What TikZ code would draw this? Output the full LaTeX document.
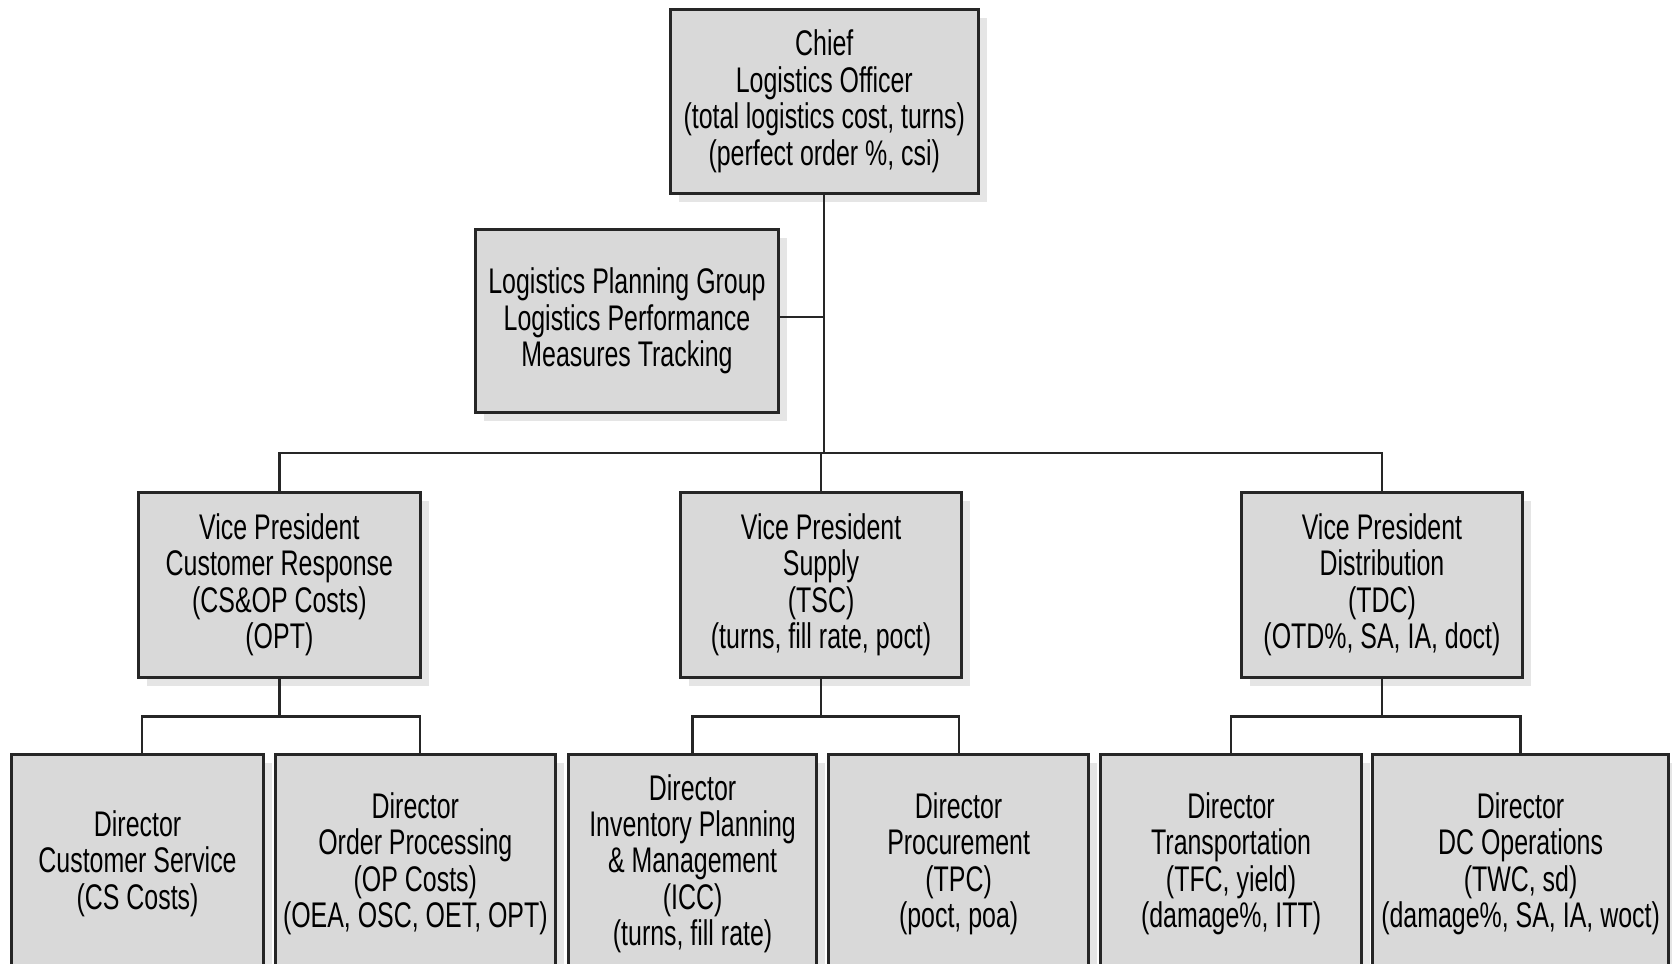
\documentclass[tikz,border=0pt]{standalone}
\usepackage{fontspec}
\setmainfont{Liberation Sans}[FakeStretch=0.70]
\usetikzlibrary{shadows}
\begin{document}
\begin{tikzpicture}[x=0.01cm,y=-0.01cm,
  box/.style={draw=black!85, line width=0.8pt, fill=black!15, rectangle, inner sep=0pt,
    align=center, font=\fontsize{9.5}{9.7}\selectfont,
    drop shadow={shadow xshift=0.08cm, shadow yshift=-0.08cm, fill=black!10, opacity=1}},
  vpbox/.style={box, minimum width=2.64cm, minimum height=1.73cm},
  dirbox/.style={box, minimum height=2.04cm},
  conn/.style={draw=black!85, line width=0.6pt}]
\useasboundingbox (0,0) rectangle (1568,904);
\clip (0,0) rectangle (1568,904);
\fill[white] (0,0) rectangle (1568,904);

\node[box, minimum width=2.89cm, minimum height=1.72cm] (chief) at (773,95)
  {Chief\\Logistics Officer\\(total logistics cost, turns)\\(perfect order \%, csi)};
\node[box, minimum width=2.84cm, minimum height=1.72cm] (lpg) at (588,301)
  {Logistics Planning Group\\Logistics Performance\\Measures Tracking};

\node[vpbox] (vp1) at (262,548.5) {Vice President\\Customer Response\\(CS\&OP Costs)\\(OPT)};
\node[vpbox] (vp2) at (770,548.5) {Vice President\\Supply\\(TSC)\\(turns, fill rate, poct)};
\node[vpbox] (vp3) at (1296,548.5) {Vice President\\Distribution\\(TDC)\\(OTD\%, SA, IA, doct)};

\node[dirbox, minimum width=2.36cm] (d1) at (129,810) {Director\\Customer Service\\(CS Costs)};
\node[dirbox, minimum width=2.63cm] (d2) at (389.5,810) {Director\\Order Processing\\(OP Costs)\\(OEA, OSC, OET, OPT)};
\node[dirbox, minimum width=2.33cm] (d3) at (649.5,810) {Director\\Inventory Planning\\\& Management\\(ICC)\\(turns, fill rate)};
\node[dirbox, minimum width=2.44cm] (d4) at (899,810) {Director\\Procurement\\(TPC)\\(poct, poa)};
\node[dirbox, minimum width=2.45cm] (d5) at (1154.5,810) {Director\\Transportation\\(TFC, yield)\\(damage\%, ITT)};
\node[dirbox, minimum width=2.78cm] (d6) at (1426,810) {Director\\DC Operations\\(TWC, sd)\\(damage\%, SA, IA, woct)};

\coordinate (busy) at (0,425);
\coordinate (suby) at (0,672);

\draw[conn] (chief.south) -- (chief.south |- busy);
\draw[conn] (lpg.east |- 0,297) -- (chief.south |- 0,297);
\draw[conn] (vp1.north) -- (vp1.north |- busy) -- (vp3.north |- busy) -- (vp3.north);
\draw[conn] (vp2.north) -- (vp2.north |- busy);

\draw[conn] (vp1.south) -- (vp1.south |- suby);
\draw[conn] ([xshift=0.04cm]d1.north) -- ([xshift=0.04cm]d1.north |- suby) -- ([xshift=0.045cm]d2.north |- suby) -- ([xshift=0.045cm]d2.north);
\draw[conn] (vp2.south) -- (vp2.south |- suby);
\draw[conn] (d3.north) -- (d3.north |- suby) -- (d4.north |- suby) -- (d4.north);
\draw[conn] (vp3.south) -- (vp3.south |- suby);
\draw[conn] (d5.north) -- (d5.north |- suby) -- (d6.north |- suby) -- (d6.north);
\end{tikzpicture}
\end{document}
